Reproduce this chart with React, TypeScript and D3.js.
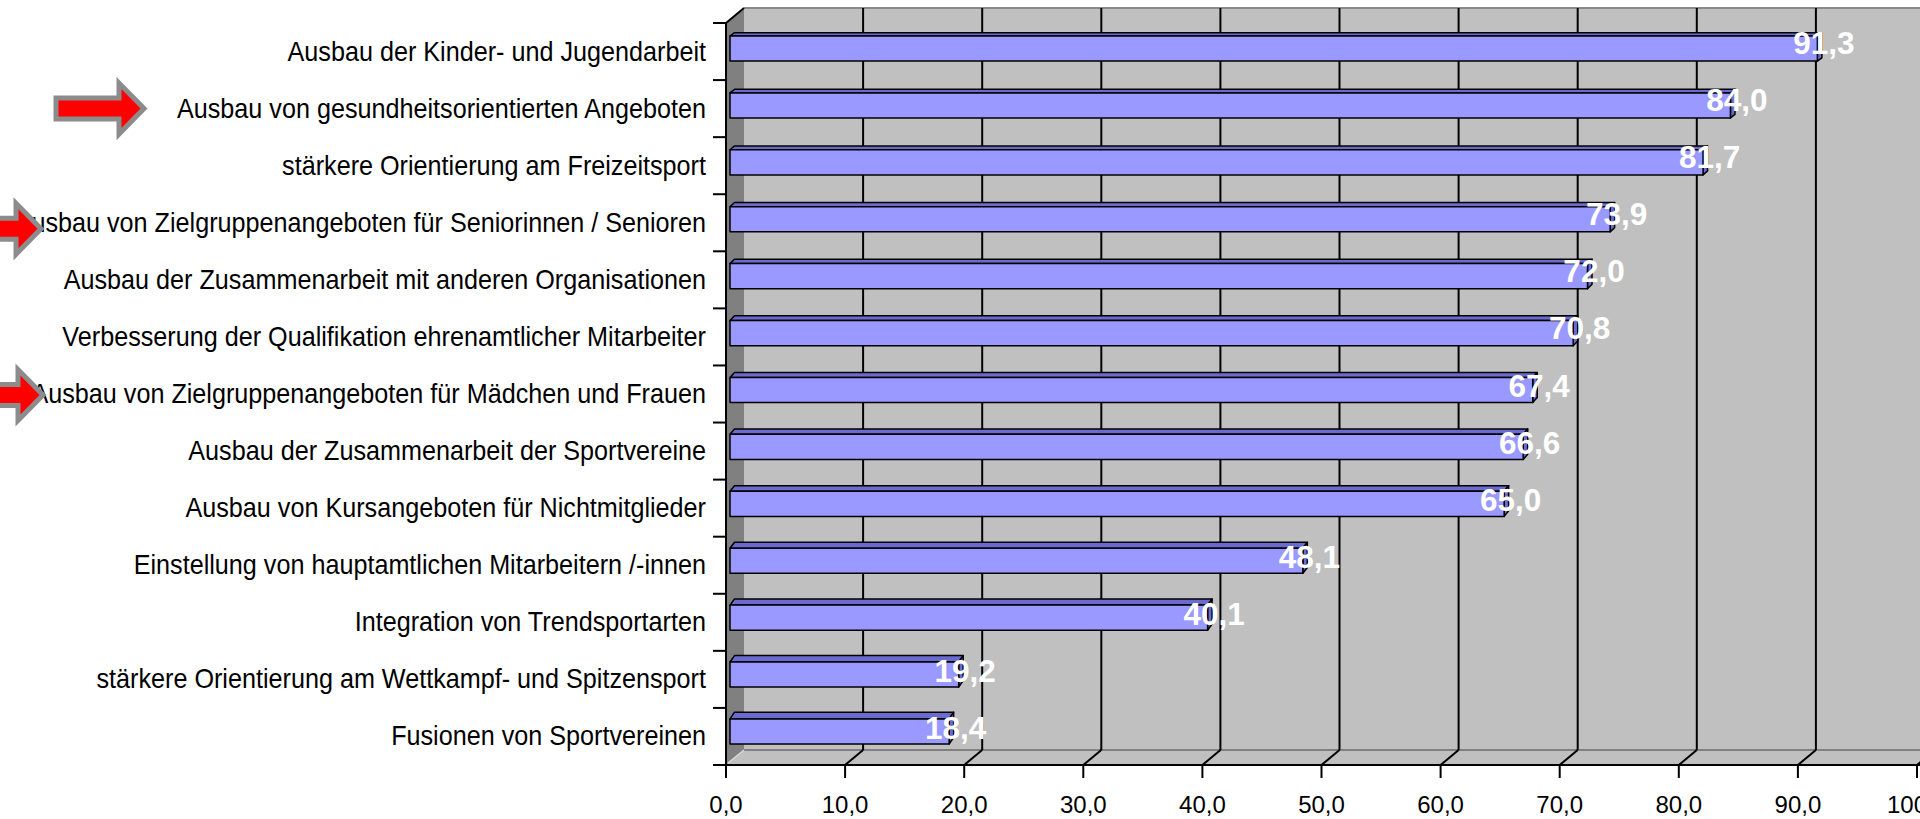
import * as React from 'react';
import {scaleBand, scaleLinear, range, format} from 'd3';

const categories = [
  'Ausbau der Kinder- und Jugendarbeit',
  'Ausbau von gesundheitsorientierten Angeboten',
  'stärkere Orientierung am Freizeitsport',
  'Ausbau von Zielgruppenangeboten für Seniorinnen / Senioren',
  'Ausbau der Zusammenarbeit mit anderen Organisationen',
  'Verbesserung der Qualifikation ehrenamtlicher Mitarbeiter',
  'Ausbau von Zielgruppenangeboten für Mädchen und Frauen',
  'Ausbau der Zusammenarbeit der Sportvereine',
  'Ausbau von Kursangeboten für Nichtmitglieder',
  'Einstellung von hauptamtlichen Mitarbeitern /-innen',
  'Integration von Trendsportarten',
  'stärkere Orientierung am Wettkampf- und Spitzensport',
  'Fusionen von Sportvereinen',
];
const values = [91.3, 84.0, 81.7, 73.9, 72.0, 70.8, 67.4, 66.6, 65.0, 48.1, 40.1, 19.2, 18.4];
const xTicks = range(0, 101, 10);
// rows marked with a red arrow, and where the arrow tip sits
const arrowRows = ['Ausbau von gesundheitsorientierten Angeboten', 'Ausbau von Zielgruppenangeboten für Seniorinnen / Senioren', 'Ausbau von Zielgruppenangeboten für Mädchen und Frauen'];
const arrowTips = [144, 41, 43];
const arrowTails = [56, -40, -40];
const arrowShift = [0, 6, 1];

const width = 1920;
const height = 819;
const left = 726;
const top = 23;
const bottom = 765;
const depthX = 18;
const depthY = -15;

const x = scaleLinear().domain([0, 100]).range([left, 1917]);
const y = scaleBand().domain(categories).range([top, bottom]).padding(0);
const fmt = (v: number) => format('.1f')(v).replace('.', ',');

const font = '"Liberation Sans", Arial, sans-serif';

export default function App() {
  const bw = y.bandwidth();
  const barH = bw * 0.44;
  const backRight = x(100) + depthX + 40;

  const bars = values.map((v, i) => {
    const t = i / (values.length - 1);
    const oy = -(3 + 2 * t);
    const ddx = 4.5;
    const ddy = -(3.3 + 3.4 * t);
    const cy = (y(categories[i]) as number) + bw / 2;
    const x0 = x(0) + 4;
    const x1 = x(v) + 4;
    const y0 = cy + oy - barH / 2;
    const y1 = y0 + barH;
    return (
      <g key={i} stroke="#000" strokeWidth={1.5} strokeLinejoin="round">
        <polygon points={`${x0},${y0} ${x0 + ddx},${y0 + ddy} ${x1 + ddx},${y0 + ddy} ${x1},${y0}`} fill="#6B6BCF" />
        <polygon points={`${x1},${y0} ${x1 + ddx},${y0 + ddy} ${x1 + ddx},${y1 + ddy} ${x1},${y1}`} fill="#6B6BCF" />
        <rect x={x0} y={y0} width={x1 - x0} height={barH} fill="#9999FF" />
      </g>
    );
  });

  const labels = values.map((v, i) => {
    const cy = (y(categories[i]) as number) + bw / 2;
    return (
      <text key={i} x={x(v) + 10.5} y={cy + 2.5} textAnchor="middle" fill="#fff"
        fontWeight="bold" fontSize={31.5} fontFamily={font}>{fmt(v)}</text>
    );
  });

  const arrows = arrowRows.map((c, i) => {
    const cy = (y(c) as number) + bw / 2 + arrowShift[i];
    const tip = arrowTips[i];
    const base = tip - 25;
    const tail = arrowTails[i];
    const sh = 10.5;
    const hh = 25.5;
    return (
      <polygon key={i}
        points={`${tail},${cy - sh} ${base},${cy - sh} ${base},${cy - hh} ${tip},${cy} ${base},${cy + hh} ${base},${cy + sh} ${tail},${cy + sh}`}
        fill="#FF0000" stroke="#8C8C8C" strokeWidth={5} strokeLinejoin="miter" />
    );
  });

  return (
    <svg width={width} height={height} style={{position: 'fixed', left: 0, top: 0, background: '#fff'}}>
      {/* back wall */}
      <rect x={left + depthX} y={top + depthY} width={backRight - left} height={bottom - top} fill="#C0C0C0" />
      <line x1={left + depthX} x2={backRight} y1={top + depthY} y2={top + depthY} stroke="#8A8A8A" strokeWidth={2} />
      {/* left wall */}
      <polygon points={`${left},${top} ${left + depthX},${top + depthY} ${left + depthX},${bottom + depthY} ${left},${bottom}`} fill="#808080" />
      {/* floor */}
      <polygon points={`${left},${bottom} ${left + depthX},${bottom + depthY} ${backRight},${bottom + depthY} ${backRight},${bottom}`} fill="#C0C0C0" />
      <line x1={left + depthX} x2={backRight} y1={bottom + depthY} y2={bottom + depthY} stroke="#808080" strokeWidth={2} />
      <line x1={left + 2} x2={left + depthX} y1={bottom - 2} y2={bottom + depthY} stroke="#D8D8D8" strokeWidth={1.5} />
      {/* grid */}
      {xTicks.filter(v => v > 0).map(v => (
        <g key={v} stroke="#000" strokeWidth={2}>
          <line x1={x(v) + depthX} x2={x(v) + depthX} y1={top + depthY} y2={bottom + depthY} />
          <line x1={x(v)} x2={x(v) + depthX} y1={bottom} y2={bottom + depthY} />
        </g>
      ))}
      {/* axes */}
      <line x1={left - 13} x2={backRight} y1={bottom} y2={bottom} stroke="#000" strokeWidth={2} />
      <line x1={left} x2={left} y1={top} y2={bottom + 13} stroke="#000" strokeWidth={2} />
      <line x1={left} x2={left + depthX} y1={top} y2={top + depthY} stroke="#000" strokeWidth={2} />
      {xTicks.map(v => (
        <g key={v}>
          <line x1={x(v)} x2={x(v)} y1={bottom} y2={bottom + 13} stroke="#000" strokeWidth={2} />
          <text x={x(v)} y={813} textAnchor="middle" fontSize={24} fontFamily={font} fill="#000">{fmt(v)}</text>
        </g>
      ))}
      {categories.map(c => (
        <line key={c} x1={left - 13} x2={left} y1={y(c) as number} y2={y(c) as number} stroke="#000" strokeWidth={2} />
      ))}
      {bars}
      {labels}
      {categories.map(c => (
        <text key={c} transform={`translate(706,${(y(c) as number) + bw / 2 + 9}) scale(0.884,1)`}
          textAnchor="end" fontSize={28.5} fontFamily={font} fill="#000">{c}</text>
      ))}
      {arrows}
    </svg>
  );
}
